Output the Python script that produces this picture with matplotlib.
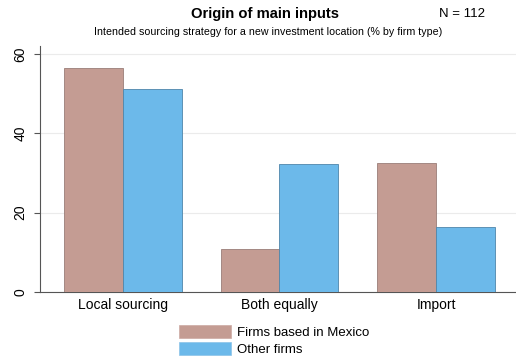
import matplotlib.pyplot as plt
import numpy as np
from matplotlib.patches import Patch

categories = ['Local sourcing', 'Both equally', 'Import']
mexico = [56.5, 10.8, 32.4]
other = [51.2, 32.2, 16.4]
series_names = ['Firms based in Mexico', 'Other firms']
col_mex = '#c49c93'
col_oth = '#6cb9ea'

plt.rcParams['font.family'] = ['Liberation Sans', 'DejaVu Sans']

fig = plt.figure(figsize=(5.16, 3.62), dpi=100)
ax = fig.add_axes([40 / 516, 70 / 362, 476 / 516, 246 / 362])

x = np.arange(len(categories))
w = 0.376
ax.bar(x - w / 2, mexico, w, color=col_mex, edgecolor='#9a7d78', linewidth=0.6, zorder=3)
ax.bar(x + w / 2, other, w, color=col_oth, edgecolor='#4f86aa', linewidth=0.6, zorder=3)

ax.set_xlim(-0.529, 2.51)
ax.set_ylim(0, 62)
ax.set_yticks([0, 20, 40, 60])
ax.set_yticklabels(['0', '20', '40', '60'], rotation=90, va='center', fontsize=10)
ax.set_xticks(x)
ax.set_xticklabels(categories, fontsize=10)
ax.tick_params(axis='x', length=0, pad=4)
ax.tick_params(axis='y', length=4, color='#555555', pad=5)
for s in ['top', 'right']:
    ax.spines[s].set_visible(False)
ax.spines['left'].set_color('#555555')
ax.spines['bottom'].set_color('#555555')
ax.grid(axis='y', color='#ebebeb', linewidth=0.8, zorder=0)

fig.text(0.513, 0.962, 'Origin of main inputs', ha='center', va='center',
         fontsize=10.6, fontweight='bold')
fig.text(0.94, 0.962, 'N = 112', ha='right', va='center', fontsize=9.5)
fig.text(0.519, 0.912, 'Intended sourcing strategy for a new investment location (% by firm type)',
         ha='center', va='center', fontsize=7.7)

handles = [Patch(facecolor=col_mex, edgecolor='#ccaaa4', linewidth=0.5),
           Patch(facecolor=col_oth, edgecolor='#8cc4e8', linewidth=0.5)]
fig.legend(handles, series_names, loc='center', bbox_to_anchor=(0.531, 0.06),
           frameon=False, fontsize=9.5, handlelength=3.95, handleheight=1.2,
           labelspacing=0.2, handletextpad=0.45)

fig.savefig('out.png', dpi=100)
